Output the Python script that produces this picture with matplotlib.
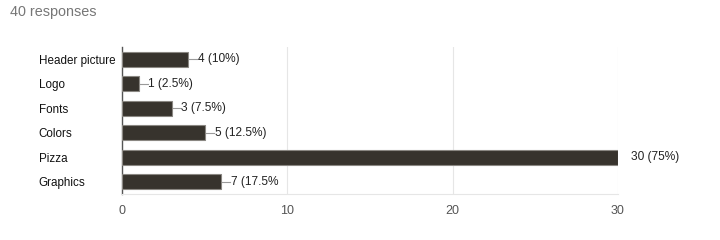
import matplotlib
matplotlib.use("Agg")
import matplotlib.pyplot as plt

categories = ["Header picture", "Logo", "Fonts", "Colors", "Pizza", "Graphics"]
bar_lengths = [4, 1, 3, 5, 30, 6]  # as drawn in the picture
labels = ["4 (10%)", "1 (2.5%)", "3 (7.5%)", "5 (12.5%)", "30 (75%)", "7 (17.5%"]
xticks = [0, 10, 20, 30]

plt.rcParams.update({"font.family": ["Liberation Sans", "DejaVu Sans"]})
fig = plt.figure(figsize=(7.2, 2.4), dpi=100, facecolor="white")
ax = fig.add_axes([0.1694, 0.1917, 0.6889, 0.6125])

y = list(range(len(categories)))
ax.barh(y, bar_lengths, height=0.63, color="#37332d", edgecolor="#8a8782", linewidth=0.8, zorder=3)

for yi, c, lab in zip(y, bar_lengths, labels):
    if c < max(bar_lengths):
        ax.plot([c, c + 0.55], [yi, yi], color="#9a9a9a", lw=0.8, zorder=2, clip_on=False)
        ax.text(c + 0.6, yi, lab, va="center", ha="left", fontsize=8.6, color="#222222")
    else:
        ax.text(c + 0.8, yi, lab, va="center", ha="left", fontsize=8.6, color="#222222")

ax.set_xlim(0, 30)
ax.set_ylim(len(categories) - 0.5, -0.5)
ax.set_xticks(xticks)
ax.set_xticklabels([str(t) for t in xticks], fontsize=9, color="#555555")
ax.set_yticks(y)
ax.set_yticklabels(categories, fontsize=8.4, color="#111111", ha="left")
ax.tick_params(axis="y", length=0, pad=60)
ax.tick_params(axis="x", length=0, pad=8)
ax.grid(axis="x", color="#e6e6e6", lw=0.8, zorder=0)
for s in ["top", "right"]:
    ax.spines[s].set_visible(False)
ax.spines["bottom"].set_color("#e6e6e6")
ax.spines["left"].set_color("#555555")
ax.spines["left"].set_linewidth(1.0)

fig.text(0.014, 0.952, "40 responses", fontsize=10.4, color="#777777", va="center")

fig.savefig("out.png", dpi=100, facecolor="white")
